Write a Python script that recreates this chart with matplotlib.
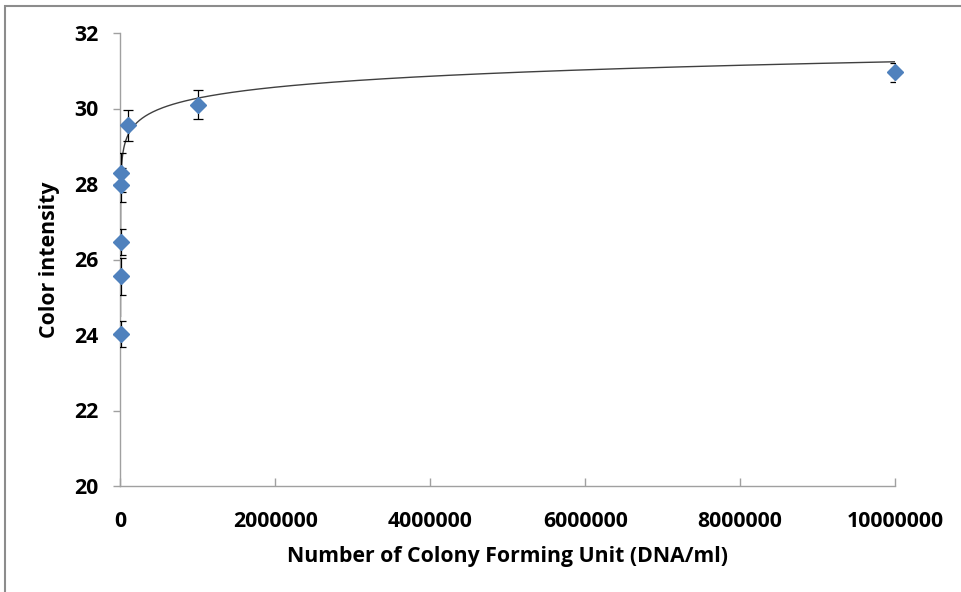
import numpy as np
import matplotlib
matplotlib.use("Agg")
import matplotlib.pyplot as plt
from matplotlib.patches import Rectangle

# Data
cfu = [1, 10, 100, 1000, 10000, 100000, 1000000, 10000000]
intensity = [24.02, 25.55, 26.47, 27.97, 28.30, 29.56, 30.10, 30.96]
errors = [0.34, 0.48, 0.34, 0.46, 0.52, 0.41, 0.39, 0.25]
x_ticks = [0, 2000000, 4000000, 6000000, 8000000, 10000000]
y_ticks = [20, 22, 24, 26, 28, 30, 32]

plt.rcParams['font.family'] = ['Open Sans', 'DejaVu Sans']
plt.rcParams['font.weight'] = 'bold'

fig = plt.figure(figsize=(9.62, 5.92), dpi=100)
fig.patch.set_facecolor('white')

# chart area border (partially visible)
fig.add_artist(Rectangle((5 / 962, -0.1), 1.2, 1 - 6 / 592 + 0.1,
                         transform=fig.transFigure, fill=False,
                         edgecolor='#8c8c8c', linewidth=1.5))

ax = fig.add_axes([120.5 / 962, (592 - 486) / 592, 774.5 / 962, 453 / 592])

# logarithmic trendline
coef = np.polyfit(np.log(cfu), intensity, 1)
xt = np.logspace(0, 7, 600)
ax.plot(xt, coef[0] * np.log(xt) + coef[1], color='#404040', lw=1.0, zorder=2)

ax.errorbar(cfu, intensity, yerr=errors, fmt='none', ecolor='black',
            elinewidth=0.9, capsize=3.5, capthick=0.9, zorder=3)
ax.plot(cfu, intensity, linestyle='none', marker='D', markersize=8.6,
        color='#4F81BD', markeredgecolor='#4F81BD', zorder=4, clip_on=False)

ax.set_xlim(0, 10000000)
ax.set_ylim(20, 32)
ax.set_xticks(x_ticks)
ax.set_xticklabels([str(v) for v in x_ticks])
ax.set_yticks(y_ticks)
ax.set_yticklabels([str(v) for v in y_ticks])

for s in ['top', 'right']:
    ax.spines[s].set_visible(False)
for s in ['left', 'bottom']:
    ax.spines[s].set_color('#a0a0a0')
    ax.spines[s].set_linewidth(1.0)

ax.tick_params(axis='x', direction='in', length=6, width=1, color='#a0a0a0',
               labelsize=15.3, pad=18)
ax.tick_params(axis='y', direction='out', length=5, width=1, color='#a0a0a0',
               labelsize=15.3, pad=11)
for lab in ax.get_xticklabels() + ax.get_yticklabels():
    lab.set_fontweight('bold')

ax.set_xlabel('Number of Colony Forming Unit (DNA/ml)', fontsize=15.3,
              fontweight='bold', labelpad=10)
ax.set_ylabel('Color intensity', fontsize=15.3, fontweight='bold', labelpad=10)

fig.savefig('out.png', dpi=100, facecolor='white')
